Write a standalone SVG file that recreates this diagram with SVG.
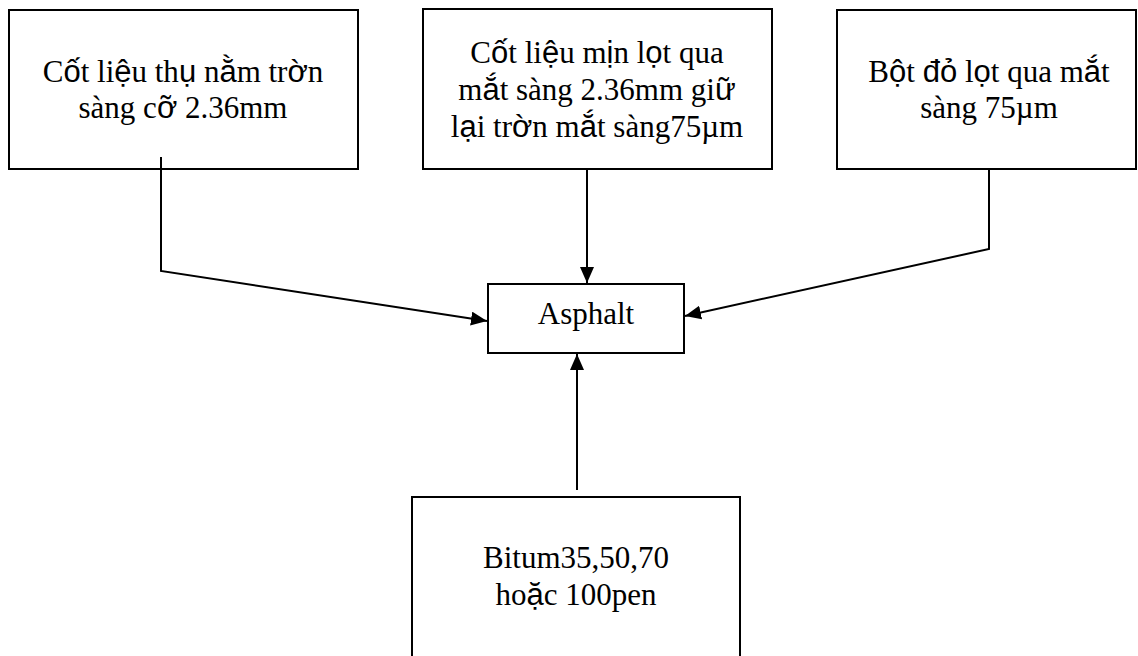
<svg xmlns="http://www.w3.org/2000/svg" width="1138" height="656" viewBox="0 0 1138 656">
  <style>
    .box { fill: #fff; stroke: #000; stroke-width: 2; }
    .t { font-family: "Liberation Serif", "Times New Roman", serif; font-size: 31px; text-anchor: middle; fill: #000; }
    .s { font-family: "Liberation Sans", Arial, sans-serif; }
    .conn { fill: none; stroke: #000; stroke-width: 2; }
  </style>
  <defs>
    <marker id="arrow" viewBox="0 0 16 14" refX="16" refY="7" markerWidth="16" markerHeight="14" markerUnits="userSpaceOnUse" orient="auto">
      <path d="M0,0 L16,7 L0,14 z" fill="#000"/>
    </marker>
  </defs>
  <rect width="1138" height="656" fill="#fff"/>

  <g id="node-coarse">
    <rect class="box" x="9" y="10" width="349" height="159"/>
    <text class="t" x="183" y="82">C<tspan class="s">ố</tspan>t li<tspan class="s">ệ</tspan>u th<tspan class="s">ụ</tspan> n<tspan class="s">ằ</tspan>m tr<tspan class="s">ờ</tspan>n</text>
    <text class="t" x="183" y="118">sàng c<tspan class="s">ỡ</tspan> 2.36mm</text>
  </g>

  <g id="node-fine">
    <rect class="box" x="423" y="9" width="349" height="160"/>
    <text class="t" x="597" y="63">C<tspan class="s">ố</tspan>t li<tspan class="s">ệ</tspan>u m<tspan class="s">ị</tspan>n l<tspan class="s">ọ</tspan>t qua</text>
    <text class="t" x="597" y="100">m<tspan class="s">ắ</tspan>t sàng 2.36mm gi<tspan class="s">ữ</tspan></text>
    <text class="t" x="597" y="137">l<tspan class="s">ạ</tspan>i tr<tspan class="s">ờ</tspan>n m<tspan class="s">ắ</tspan>t sàng75µm</text>
  </g>

  <g id="node-filler">
    <rect class="box" x="837" y="10" width="299" height="159"/>
    <text class="t" x="989" y="82">B<tspan class="s">ộ</tspan>t <tspan class="s">đỏ</tspan> l<tspan class="s">ọ</tspan>t qua m<tspan class="s">ắ</tspan>t</text>
    <text class="t" x="989" y="118">sàng 75µm</text>
  </g>

  <g id="node-asphalt">
    <rect class="box" x="488" y="284" width="196" height="69"/>
    <text class="t" x="586" y="324">Asphalt</text>
  </g>

  <g id="node-bitumen">
    <rect class="box" x="412" y="497" width="328" height="180"/>
    <text class="t" x="576" y="568">Bitum35,50,70</text>
    <text class="t" x="576" y="605">ho<tspan class="s">ặ</tspan>c 100pen</text>
  </g>

  <g id="connectors">
    <polyline class="conn" points="161,157 161,271 487,321" marker-end="url(#arrow)"/>
    <line class="conn" x1="587" y1="169" x2="587" y2="283" marker-end="url(#arrow)"/>
    <polyline class="conn" points="989,168 989,249 685,316" marker-end="url(#arrow)"/>
    <line class="conn" x1="577" y1="490" x2="577" y2="354" marker-end="url(#arrow)"/>
  </g>
</svg>
